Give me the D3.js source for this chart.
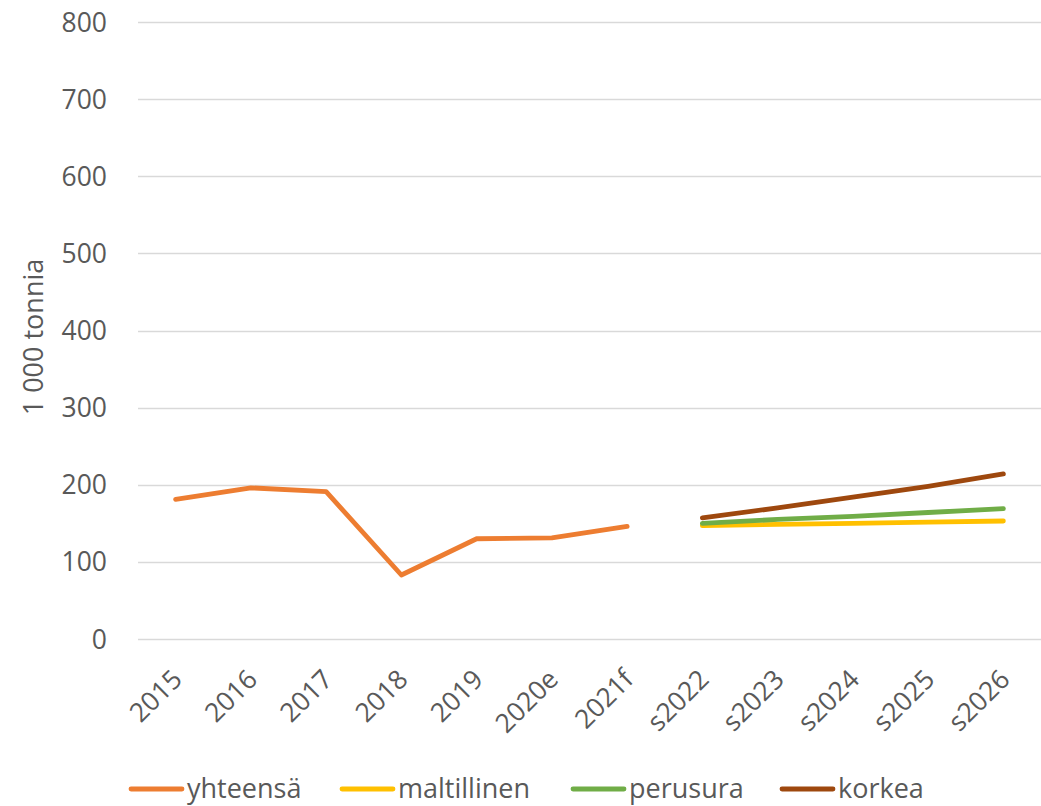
<!DOCTYPE html>
<html><head><meta charset="utf-8">
<script src="https://cdn.jsdelivr.net/npm/d3@7"></script>
<style>body{margin:0;background:#fff}svg{display:block}</style>
</head><body>
<script>
const categories = ["2015","2016","2017","2018","2019","2020e","2021f","s2022","s2023","s2024","s2025","s2026"];
const yhteensa = [181,196,191,83,130,131,146,null,null,null,null,null];
const maltillinen = [null,null,null,null,null,null,null,147,148.5,150,151.5,153];
const perusura = [null,null,null,null,null,null,null,150,155,159,164,169];
const korkea = [null,null,null,null,null,null,null,157,170,184,198,214];
const yTicks = [0,100,200,300,400,500,600,700,800];
const seriesNames = ["yhteensä","maltillinen","perusura","korkea"];
const seriesData = [yhteensa, maltillinen, perusura, korkea];
const colors = ["#ED7D31","#FFC000","#70AD47","#9E480E"];

const W = 1041, H = 806;
const svg = d3.select("body").append("svg").attr("width", W).attr("height", H);
const x = d3.scaleBand().domain(categories).range([138, 1041]);
const y = d3.scaleLinear().domain([0, 800]).range([639, 22]);
const font = "'Open Sans', 'Liberation Sans', sans-serif";

// gridlines
svg.append("g").selectAll("line").data(yTicks).join("line")
  .attr("x1", 138).attr("x2", 1041)
  .attr("y1", d => Math.round(y(d)) + 0.5).attr("y2", d => Math.round(y(d)) + 0.5)
  .attr("stroke", "#d9d9d9").attr("stroke-width", 1.3);

// y tick labels
svg.append("g").selectAll("text").data(yTicks).join("text")
  .attr("x", 107).attr("y", d => y(d))
  .attr("dy", "0.36em").attr("text-anchor", "end")
  .attr("font-family", font).attr("font-size", 26.5).attr("fill", "#595959")
  .text(d => d);

// y title
svg.append("text")
  .attr("transform", "translate(43,337) rotate(-90)")
  .attr("text-anchor", "middle")
  .attr("font-family", font).attr("font-size", 27).attr("fill", "#595959")
  .text("1 000 tonnia");

// x labels
svg.append("g").selectAll("text").data(categories).join("text")
  .attr("transform", d => `translate(${x(d) + x.bandwidth()/2 + 8},${681}) rotate(-45)`)
  .attr("text-anchor", "end")
  .attr("font-family", font).attr("font-size", 26.5).attr("fill", "#595959")
  .text(d => d);

// lines
const line = d3.line()
  .defined(d => d != null)
  .x((d, i) => x(categories[i]) + x.bandwidth()/2)
  .y(d => y(d));
seriesData.forEach((s, k) => {
  svg.append("path").datum(s)
    .attr("d", line)
    .attr("fill", "none").attr("stroke", colors[k])
    .attr("stroke-width", 4.8).attr("stroke-linecap", "round").attr("stroke-linejoin", "round");
});

// legend
const legX = [129, 340, 571, 780];
const leg = svg.append("g");
seriesNames.forEach((n, k) => {
  leg.append("line").attr("x1", legX[k] + 2).attr("x2", legX[k] + 53)
    .attr("y1", 789).attr("y2", 789)
    .attr("stroke", colors[k]).attr("stroke-width", 4.8).attr("stroke-linecap", "round");
  leg.append("text").attr("x", legX[k] + 58).attr("y", 798)
    .attr("font-family", font).attr("font-size", 27).attr("fill", "#595959")
    .text(n);
});
</script>
</body></html>
